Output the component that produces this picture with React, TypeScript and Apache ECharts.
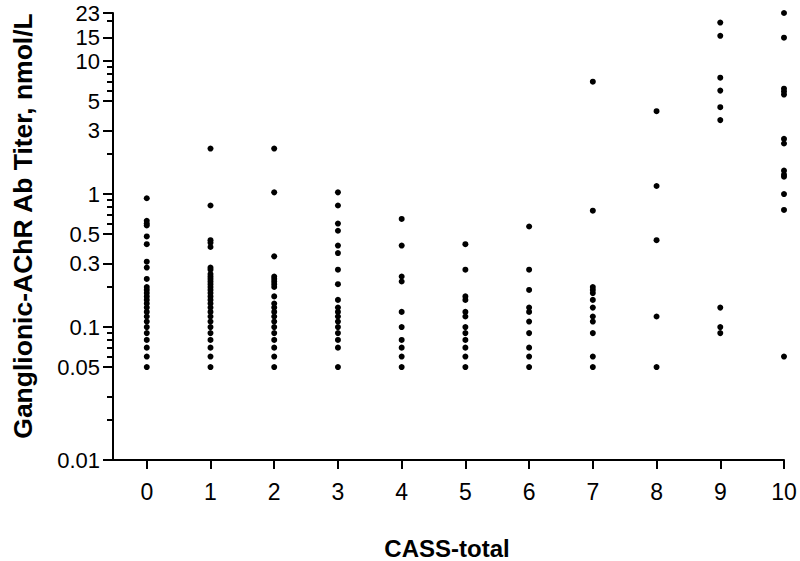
import React, { useEffect, useRef } from "react";
import * as echarts from "echarts";

const cassTotals = [0, 1, 2, 3, 4, 5, 6, 7, 8, 9, 10];

const titers0 = [0.93, 0.63, 0.6, 0.58, 0.48, 0.42, 0.31, 0.28, 0.23, 0.2, 0.19, 0.18, 0.17, 0.16, 0.15, 0.14, 0.13, 0.12, 0.11, 0.1, 0.09, 0.08, 0.07, 0.06, 0.05];
const titers1 = [2.2, 0.82, 0.45, 0.43, 0.4, 0.28, 0.27, 0.25, 0.24, 0.23, 0.22, 0.21, 0.2, 0.19, 0.18, 0.17, 0.16, 0.15, 0.14, 0.13, 0.12, 0.11, 0.1, 0.09, 0.08, 0.07, 0.06, 0.05];
const titers2 = [2.2, 1.03, 0.34, 0.24, 0.23, 0.22, 0.21, 0.2, 0.17, 0.15, 0.14, 0.13, 0.12, 0.11, 0.1, 0.09, 0.08, 0.07, 0.06, 0.05];
const titers3 = [1.03, 0.82, 0.6, 0.53, 0.41, 0.36, 0.27, 0.21, 0.16, 0.14, 0.13, 0.12, 0.11, 0.1, 0.09, 0.08, 0.07, 0.05];
const titers4 = [0.65, 0.41, 0.24, 0.22, 0.13, 0.1, 0.08, 0.07, 0.06, 0.05];
const titers5 = [0.42, 0.27, 0.17, 0.16, 0.13, 0.12, 0.1, 0.09, 0.08, 0.07, 0.06, 0.05];
const titers6 = [0.57, 0.27, 0.19, 0.14, 0.13, 0.11, 0.09, 0.07, 0.06, 0.05];
const titers7 = [7, 0.75, 0.2, 0.19, 0.18, 0.16, 0.14, 0.12, 0.11, 0.09, 0.06, 0.05];
const titers8 = [4.2, 1.15, 0.45, 0.12, 0.05];
const titers9 = [19.5, 15.5, 7.5, 6, 4.5, 3.6, 0.14, 0.1, 0.09];
const titers10 = [23, 15, 6.2, 5.9, 5.6, 2.6, 2.4, 1.5, 1.4, 1.35, 1.0, 0.76, 0.06];

const titerColumns = [titers0, titers1, titers2, titers3, titers4, titers5, titers6, titers7, titers8, titers9, titers10];

const yMajorTicks = [0.01, 0.05, 0.1, 0.3, 0.5, 1, 3, 5, 10, 15, 23];
const yMinorTicks = [0.02, 0.03, 0.06, 0.07, 0.08, 0.09, 0.2, 0.6, 0.7, 0.8, 0.9, 2, 6, 7, 8, 9, 20];

const xTitle = "CASS-total";
const yTitle = "Ganglionic-AChR Ab Titer, nmol/L";

const FONT = '"Liberation Sans", Arial, sans-serif';

export default function App() {
  const ref = useRef<HTMLDivElement>(null);
  useEffect(() => {
    if (!ref.current) return;
    const chart = echarts.init(ref.current, undefined, { renderer: "svg" });
    const data = titerColumns.flatMap((vals, i) => vals.map((v) => [cassTotals[i], v]));
    chart.setOption({
      animation: false,
      backgroundColor: "#fff",
      grid: { left: 113, right: 16, top: 13, bottom: 101, containLabel: false, outerBoundsMode: "none" },
      xAxis: {
        type: "value",
        min: -0.53,
        max: 10,
        axisLine: { show: true, onZero: false, lineStyle: { color: "#000", width: 2 } },
        axisTick: { show: true, customValues: cassTotals, length: 9, lineStyle: { color: "#000", width: 2 } },
        axisLabel: { customValues: cassTotals, fontSize: 23, color: "#000", fontFamily: FONT, margin: 20 },
        splitLine: { show: false },
      },
      yAxis: [
        {
          type: "log",
          logBase: 10,
          min: 0.01,
          max: 23,
          axisLine: { show: true, onZero: false, lineStyle: { color: "#000", width: 2 } },
          axisTick: { show: true, customValues: yMajorTicks, length: 10, lineStyle: { color: "#000", width: 2 } },
          axisLabel: {
            customValues: yMajorTicks,
            fontSize: 22,
            lineHeight: 20,
            color: "#000",
            fontFamily: FONT,
            margin: 13,
            formatter: (v: number) => String(v),
          },
          splitLine: { show: false },
          minorTick: { show: false },
        },
        {
          type: "log",
          logBase: 10,
          min: 0.01,
          max: 23,
          position: "left",
          axisLine: { show: false, onZero: false },
          axisTick: { show: true, customValues: yMinorTicks, length: 6, lineStyle: { color: "#000", width: 2 } },
          axisLabel: { show: false },
          splitLine: { show: false },
        },
      ],
      series: [
        {
          type: "scatter",
          data,
          symbol: "circle",
          symbolSize: 6,
          itemStyle: { color: "#000", opacity: 1 },
        },
      ],
      graphic: [
        {
          type: "text",
          x: 447,
          y: 548,
          style: {
            text: xTitle,
            font: `bold 24px ${FONT}`,
            fill: "#000",
            align: "center",
            verticalAlign: "middle",
            textAlign: "center",
            textVerticalAlign: "middle",
          },
        },
        {
          type: "text",
          x: 23,
          y: 226,
          rotation: Math.PI / 2,
          style: {
            text: yTitle,
            font: `bold 26.5px ${FONT}`,
            fill: "#000",
            align: "center",
            verticalAlign: "middle",
            textAlign: "center",
            textVerticalAlign: "middle",
          },
        },
      ],
    });
    return () => chart.dispose();
  }, []);
  return <div ref={ref} style={{ position: "absolute", left: 0, top: 0, width: 800, height: 561 }} />;
}
